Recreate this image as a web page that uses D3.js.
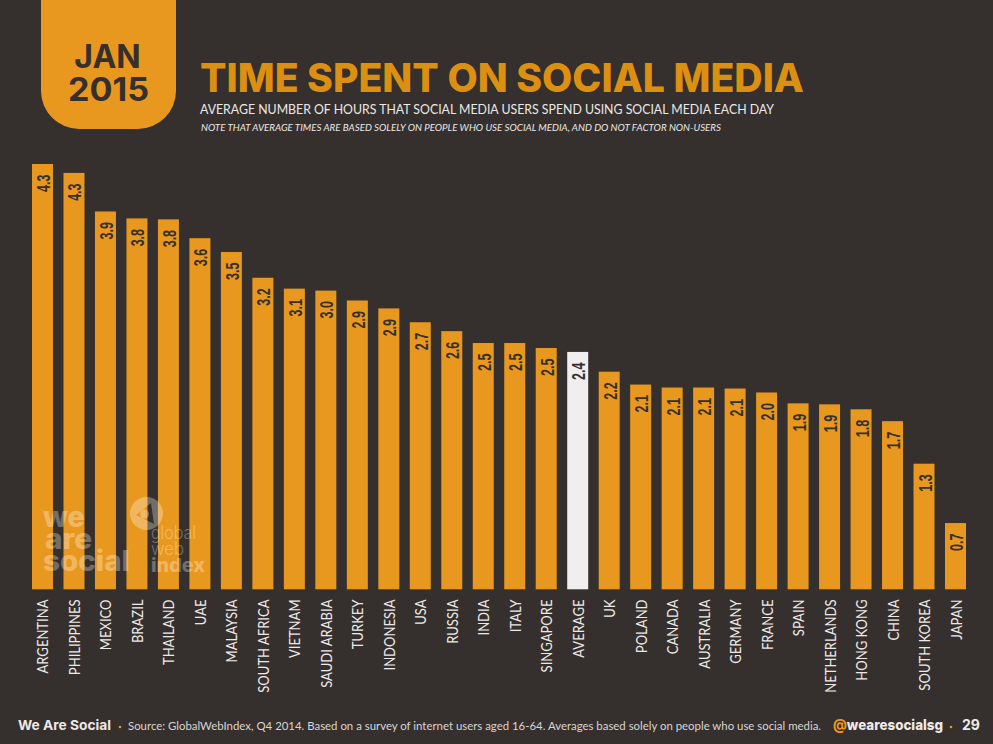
<!DOCTYPE html>
<html>
<head>
<meta charset="utf-8">
<script src="https://cdn.jsdelivr.net/npm/d3@7"></script>
<style>
html, body { margin: 0; padding: 0; background: #352f2d; }
svg { display: block; }
</style>
</head>
<body>
<svg width="993" height="744"></svg>
<script>
const countries = ["ARGENTINA", "PHILIPPINES", "MEXICO", "BRAZIL", "THAILAND", "UAE", "MALAYSIA", "SOUTH AFRICA", "VIETNAM", "SAUDI ARABIA", "TURKEY", "INDONESIA", "USA", "RUSSIA", "INDIA", "ITALY", "SINGAPORE", "AVERAGE", "UK", "POLAND", "CANADA", "AUSTRALIA", "GERMANY", "FRANCE", "SPAIN", "NETHERLANDS", "HONG KONG", "CHINA", "SOUTH KOREA", "JAPAN"];
// bar heights
const hours = [4.30, 4.21, 3.82, 3.75, 3.74, 3.55, 3.41, 3.15, 3.04, 3.02, 2.92, 2.84, 2.70, 2.61, 2.49, 2.49, 2.44, 2.40, 2.20, 2.07, 2.04, 2.04, 2.03, 1.99, 1.88, 1.87, 1.82, 1.70, 1.27, 0.67];
// printed labels, they don't always round the same way as the bars
const hour_labels = ["4.3", "4.3", "3.9", "3.8", "3.8", "3.6", "3.5", "3.2", "3.1", "3.0", "2.9", "2.9", "2.7", "2.6", "2.5", "2.5", "2.5", "2.4", "2.2", "2.1", "2.1", "2.1", "2.1", "2.0", "1.9", "1.9", "1.8", "1.7", "1.3", "0.7"];

const orange = "#e8981e";
const dark = "#352f2d";
const white_bar = "#f0eeee";
const title_font = "Inter, Lato, sans-serif";
const label_font = "Lato, 'Open Sans', sans-serif";
const svg = d3.select("svg");

const x_scale = d3.scaleBand().domain(countries).range([32, 966]).paddingInner(0.333).paddingOuter(0);
const y_scale = d3.scaleLinear().domain([0, 4.3]).range([589.3, 164]);

// date tab
svg.append("path")
    .attr("d", "M41,0 H176 V91 A38,38 0 0 1 138,129 H79 A38,38 0 0 1 41,91 Z")
    .attr("fill", orange);
svg.append("text").attr("x", 107.5).attr("y", 68).attr("text-anchor", "middle")
    .attr("font-family", title_font).attr("font-weight", 700).attr("font-size", 32)
    .attr("fill", dark).text("JAN");
svg.append("text").attr("x", 68).attr("y", 101)
    .attr("font-family", title_font).attr("font-weight", 700).attr("font-size", 32)
    .attr("textLength", 81).attr("lengthAdjust", "spacingAndGlyphs")
    .attr("fill", dark).text("2015");

// headings
svg.append("text").attr("x", 200).attr("y", 92)
    .attr("font-family", title_font).attr("font-weight", 800).attr("font-size", 39)
    .attr("textLength", 604).attr("lengthAdjust", "spacingAndGlyphs")
    .attr("fill", "#dc9012").text("TIME SPENT ON SOCIAL MEDIA");
svg.append("text").attr("x", 200).attr("y", 114)
    .attr("font-family", label_font).attr("font-size", 13.5)
    .attr("textLength", 574).attr("lengthAdjust", "spacingAndGlyphs")
    .attr("fill", "#ece9e7").text("AVERAGE NUMBER OF HOURS THAT SOCIAL MEDIA USERS SPEND USING SOCIAL MEDIA EACH DAY");
svg.append("text").attr("x", 201).attr("y", 130.5)
    .attr("font-family", label_font).attr("font-style", "italic").attr("font-size", 9.5)
    .attr("textLength", 520).attr("lengthAdjust", "spacingAndGlyphs")
    .attr("fill", "#ece9e7").text("NOTE THAT AVERAGE TIMES ARE BASED SOLELY ON PEOPLE WHO USE SOCIAL MEDIA, AND DO NOT FACTOR NON-USERS");

// bars
svg.append("g").selectAll("rect")
    .data(countries)
    .enter()
    .append("rect")
    .attr("x", (d) => x_scale(d))
    .attr("width", x_scale.bandwidth())
    .attr("y", (d, i) => y_scale(hours[i]))
    .attr("height", (d, i) => y_scale(0) - y_scale(hours[i]))
    .attr("fill", (d) => d === "AVERAGE" ? white_bar : orange);

// value labels, rotated inside the top of each bar and squeezed along the text
svg.append("g").selectAll("text")
    .data(countries)
    .enter()
    .append("text")
    .attr("transform", (d, i) => `translate(${x_scale(d) + x_scale.bandwidth() / 2 + 7.5}, ${y_scale(hours[i]) + 10.5}) rotate(-90) scale(0.68, 1)`)
    .attr("text-anchor", "end")
    .attr("font-family", "'Liberation Sans', sans-serif")
    .attr("font-weight", 700)
    .attr("font-size", 18.5)
    .attr("fill", dark)
    .text((d, i) => hour_labels[i]);

// country labels
svg.append("g").selectAll("text")
    .data(countries)
    .enter()
    .append("text")
    .attr("transform", (d) => `translate(${x_scale(d) + x_scale.bandwidth() / 2 + 6}, 599.5) rotate(-90) scale(0.9, 1)`)
    .attr("text-anchor", "end")
    .attr("font-family", label_font)
    .attr("font-size", 14.5)
    .attr("fill", "#ece9e7")
    .text((d) => d);

// watermarks, stacked lines as tspans of one text each
const marks = svg.append("g").attr("fill", "#fff").attr("opacity", 0.3);
const we_are = marks.append("text")
    .attr("font-family", title_font).attr("font-weight", 800).attr("font-size", 28);
[["we", 527, 43, 42], ["are", 549, 45, 47], ["social", 571, 43, 87]].forEach(([t, y, x, w]) => {
    we_are.append("tspan").attr("x", x).attr("y", y)
        .attr("textLength", w).attr("lengthAdjust", "spacingAndGlyphs").text(t);
});
const gwi = marks.append("text").attr("font-family", title_font);
[["global", 300, 539, 45, 18], ["web", 300, 555, 33, 18], ["index", 800, 572, 54, 19]].forEach(([t, weight, y, w, size]) => {
    gwi.append("tspan").attr("x", 151).attr("y", y)
        .attr("font-weight", weight).attr("font-size", size)
        .attr("textLength", w).attr("lengthAdjust", "spacingAndGlyphs").text(t);
});
// logo blob: disc with a triangular hole and a dot in the middle
marks.append("path")
    .attr("fill-rule", "evenodd")
    .attr("d", "M130,513.5 a16.5,16.5 0 1 1 33,0 a16.5,16.5 0 1 1 -33,0 Z M136,515 L151,503 L154,524 Z");
marks.append("circle").attr("cx", 144.5).attr("cy", 514).attr("r", 4.5);

// footer
const footer_font = "Lato, sans-serif";
svg.append("text").attr("x", 18).attr("y", 730)
    .attr("font-family", title_font).attr("font-weight", 700).attr("font-size", 13.5)
    .attr("textLength", 93).attr("lengthAdjust", "spacingAndGlyphs")
    .attr("fill", "#ece9e7").text("We Are Social");
svg.append("circle").attr("cx", 120).attr("cy", 727).attr("r", 1.3).attr("fill", orange);
svg.append("text").attr("x", 128).attr("y", 730)
    .attr("font-family", footer_font).attr("font-size", 11.5)
    .attr("textLength", 693).attr("lengthAdjust", "spacingAndGlyphs")
    .attr("fill", "#d9d6d4").text("Source: GlobalWebIndex, Q4 2014. Based on a survey of internet users aged 16-64. Averages based solely on people who use social media.");
const handle = svg.append("text").attr("x", 833).attr("y", 730)
    .attr("font-family", title_font).attr("font-weight", 800).attr("font-size", 14)
    .attr("textLength", 110).attr("lengthAdjust", "spacingAndGlyphs")
    .attr("fill", "#ece9e7");
handle.append("tspan").attr("fill", orange).text("@");
handle.append("tspan").text("wearesocialsg");
svg.append("circle").attr("cx", 951).attr("cy", 727).attr("r", 1.3).attr("fill", orange);
svg.append("text").attr("x", 962).attr("y", 730)
    .attr("font-family", title_font).attr("font-weight", 700).attr("font-size", 14)
    .attr("fill", "#ece9e7").text("29");
</script>
</body>
</html>
